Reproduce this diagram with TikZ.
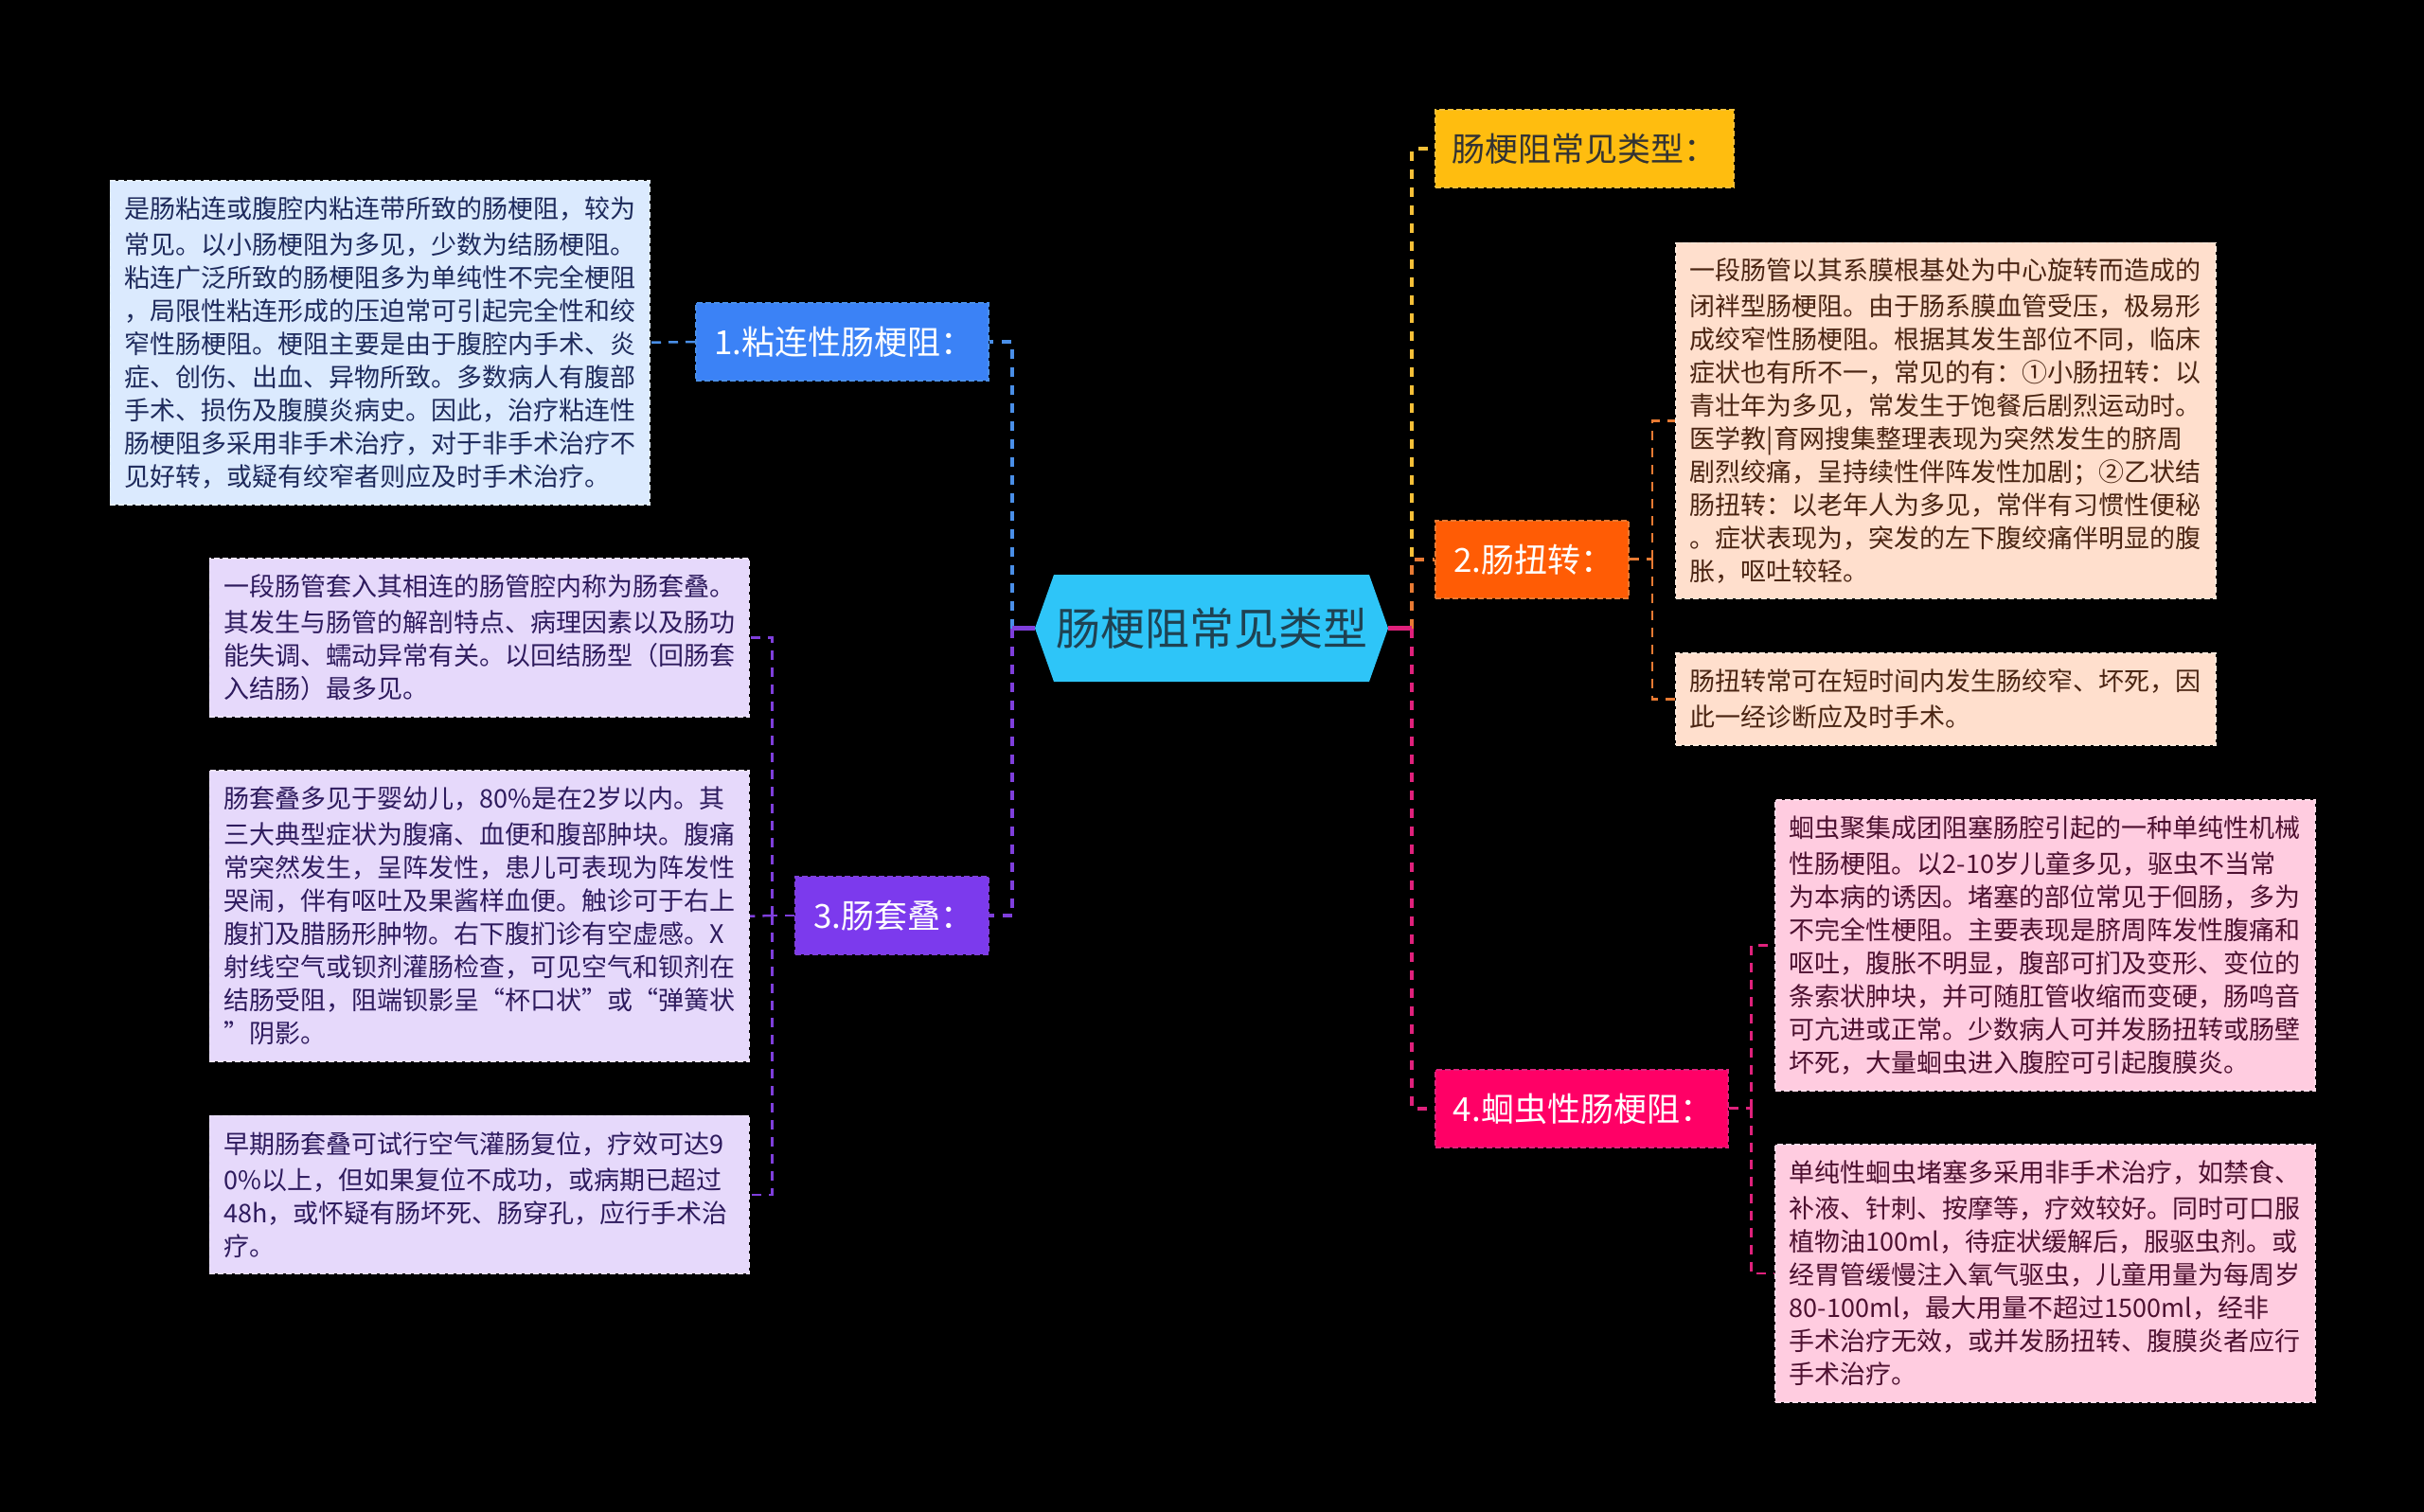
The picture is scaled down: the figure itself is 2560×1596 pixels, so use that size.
\documentclass[tikz,border=0pt]{standalone}
\usepackage{fontspec}
\setmainfont{Noto Sans CJK SC}
\usetikzlibrary{shapes.symbols}
\definecolor{bluefill}{HTML}{3B82F6}
\definecolor{bluenote}{HTML}{DBEAFE}
\definecolor{blueline}{HTML}{4A8FE8}
\definecolor{bluetext}{HTML}{1E2A5C}
\definecolor{purplefill}{HTML}{7C3AED}
\definecolor{purplenote}{HTML}{E6D9FB}
\definecolor{purpleline}{HTML}{7F3FDC}
\definecolor{purpletext}{HTML}{2E1B5E}
\definecolor{orangefill}{HTML}{FF5C05}
\definecolor{orangenote}{HTML}{FFDFCD}
\definecolor{orangeline}{HTML}{E87A33}
\definecolor{orangetext}{HTML}{4A2412}
\definecolor{pinkfill}{HTML}{FF0066}
\definecolor{pinknote}{HTML}{FFCCE0}
\definecolor{pinkline}{HTML}{E0217C}
\definecolor{pinktext}{HTML}{4D1030}
\definecolor{yellowfill}{HTML}{FFBD0F}
\definecolor{yellowline}{HTML}{F5C038}
\definecolor{mainfill}{HTML}{2EC5F8}
\definecolor{maintext}{HTML}{1F4252}

\begin{document}
\begin{tikzpicture}[x=1pt,y=-1pt,
% Root and topic style
mainnode/.style={signal,signal to=west and east,signal pointer angle=141,
	fill=mainfill,text=maintext,inner sep=0pt,
	minimum width=373pt,minimum height=113pt,
	font=\fontsize{47}{56}\selectfont},
topic/.style={rectangle,draw=#1line,fill=#1fill,line width=2pt,
	dash pattern=on 6pt off 3pt,text=white,inner sep=0pt,
	minimum height=82pt,text height=33pt,text depth=6pt,
	font=\fontsize{35}{42}\selectfont},
numbered/.style={execute at begin node=\hspace{4pt}},
% Note style
note/.style={rectangle,draw=#1note!70!white,fill=#1note,line width=1.5pt,
	dash pattern=on 6pt off 3pt,text=#1text,inner xsep=15pt,inner ysep=0pt,
	anchor=north west,align=left,font=\fontsize{27}{35}\selectfont,
	execute at begin node=\vspace{3pt}},
% Connector style
trunk/.style={draw=#1line,line width=4pt,dash pattern=on 10pt off 9pt},
twig/.style={draw=#1line,line width=2.5pt,dash pattern=on 10pt off 8pt},
stub/.style={draw=#1line,line width=4.5pt},
]
\useasboundingbox (0,0) rectangle (2560,1596);
\fill[black] (-5,-5) rectangle (2565,1601);
%% Draw root and topics
\node (root) [mainnode] at (1279.5,663.5) {肠梗阻常见类型};
\node (t0) [topic=yellow,minimum width=315pt,text=black!80] at (1673.5,157) {肠梗阻常见类型：};
\node (t1) [topic=blue,numbered,minimum width=309pt] at (889.5,361) {1.粘连性肠梗阻：};
\node (t2) [topic=orange,numbered,minimum width=204pt] at (1618,590.5) {2.肠扭转：};
\node (t3) [topic=purple,numbered,minimum width=204pt] at (942,967) {3.肠套叠：};
\node (t4) [topic=pink,numbered,minimum width=309pt] at (1670,1170.5) {4.蛔虫性肠梗阻：};
%% Draw notes
\node (n1) [note=blue,text width=540pt,minimum height=342pt] at (115.5,190) {是肠粘连或腹腔内粘连带所致的肠梗阻，较为\\常见。以小肠梗阻为多见，少数为结肠梗阻。\\粘连广泛所致的肠梗阻多为单纯性不完全梗阻\\，局限性粘连形成的压迫常可引起完全性和绞\\窄性肠梗阻。梗阻主要是由于腹腔内手术、炎\\症、创伤、出血、异物所致。多数病人有腹部\\手术、损伤及腹膜炎病史。因此，治疗粘连性\\肠梗阻多采用非手术治疗，对于非手术治疗不\\见好转，或疑有绞窄者则应及时手术治疗。};
\node (n2a) [note=orange,text width=540pt,minimum height=376pt] at (1769,255.5) {一段肠管以其系膜根基处为中心旋转而造成的\\闭袢型肠梗阻。由于肠系膜血管受压，极易形\\成绞窄性肠梗阻。根据其发生部位不同，临床\\症状也有所不一，常见的有：①小肠扭转：以\\青壮年为多见，常发生于饱餐后剧烈运动时。\\医学教|育网搜集整理表现为突然发生的脐周\\剧烈绞痛，呈持续性伴阵发性加剧；②乙状结\\肠扭转：以老年人为多见，常伴有习惯性便秘\\。症状表现为，突发的左下腹绞痛伴明显的腹\\胀，呕吐较轻。};
\node (n2b) [note=orange,text width=540pt,minimum height=97pt] at (1769,689) {肠扭转常可在短时间内发生肠绞窄、坏死，因\\此一经诊断应及时手术。};
\node (n3a) [note=purple,text width=540pt,minimum height=167pt] at (220.7,589) {一段肠管套入其相连的肠管腔内称为肠套叠。\\其发生与肠管的解剖特点、病理因素以及肠功\\能失调、蠕动异常有关。以回结肠型（回肠套\\入结肠）最多见。};
\node (n3b) [note=purple,text width=540pt,minimum height=307pt] at (220.7,813.4) {肠套叠多见于婴幼儿，80\%是在2岁以内。其\\三大典型症状为腹痛、血便和腹部肿块。腹痛\\常突然发生，呈阵发性，患儿可表现为阵发性\\哭闹，伴有呕吐及果酱样血便。触诊可于右上\\腹扪及腊肠形肿物。右下腹扪诊有空虚感。X\\射线空气或钡剂灌肠检查，可见空气和钡剂在\\结肠受阻，阻端钡影呈“杯口状”或“弹簧状\\”阴影。};
\node (n3c) [note=purple,text width=540pt,minimum height=167pt] at (220.7,1177.5) {早期肠套叠可试行空气灌肠复位，疗效可达9\\0\%以上，但如果复位不成功，或病期已超过\\48h，或怀疑有肠坏死、肠穿孔，应行手术治\\疗。};
\node (n4a) [note=pink,text width=540pt,minimum height=307pt] at (1874,844) {蛔虫聚集成团阻塞肠腔引起的一种单纯性机械\\性肠梗阻。以2-10岁儿童多见，驱虫不当常\\为本病的诱因。堵塞的部位常见于佪肠，多为\\不完全性梗阻。主要表现是脐周阵发性腹痛和\\呕吐，腹胀不明显，腹部可扪及变形、变位的\\条索状肿块，并可随肛管收缩而变硬，肠鸣音\\可亢进或正常。少数病人可并发肠扭转或肠壁\\坏死，大量蛔虫进入腹腔可引起腹膜炎。};
\node (n4b) [note=pink,text width=540pt,minimum height=272pt] at (1874,1208) {单纯性蛔虫堵塞多采用非手术治疗，如禁食、\\补液、针刺、按摩等，疗效较好。同时可口服\\植物油100ml，待症状缓解后，服驱虫剂。或\\经胃管缓慢注入氧气驱虫，儿童用量为每周岁\\80-100ml，最大用量不超过1500ml，经非\\手术治疗无效，或并发肠扭转、腹膜炎者应行\\手术治疗。};
%% Draw connectors
\coordinate (ljoin) at (1069,663.5);
\coordinate (rjoin) at (1491,663.5);
\coordinate (j2) at (1745,590.5);
\coordinate (j3) at (815.4,967);
\coordinate (j4) at (1849.7,1170.5);
\draw[trunk=yellow] (rjoin) |- (t0.west);
\draw[trunk=orange] (rjoin) |- (t2.west);
\draw[trunk=pink] (rjoin) |- (t4.west);
\draw[trunk=blue] (ljoin) |- (t1.east);
\draw[trunk=purple] (ljoin) |- (t3.east);
\draw[stub=pink] (root.east) -- (rjoin);
\draw[stub=purple] (root.west) -- (ljoin);
\draw[twig=blue] (t1.west) -- (n1.east);
\draw[twig=orange] (t2.east) -- (j2);
\draw[twig=orange] (j2) |- (n2a.west);
\draw[twig=orange] (j2) |- (n2b.west);
\draw[twig=purple] (t3.west) -- (j3);
\draw[twig=purple] (j3) |- (n3a.east);
\draw[twig=purple] (j3) -- (n3b.east);
\draw[twig=purple] (j3) |- (n3c.east);
\draw[twig=pink] (t4.east) -- (j4);
\draw[twig=pink] (j4) |- (n4a.west);
\draw[twig=pink] (j4) |- (n4b.west);
\end{tikzpicture}
\end{document}
